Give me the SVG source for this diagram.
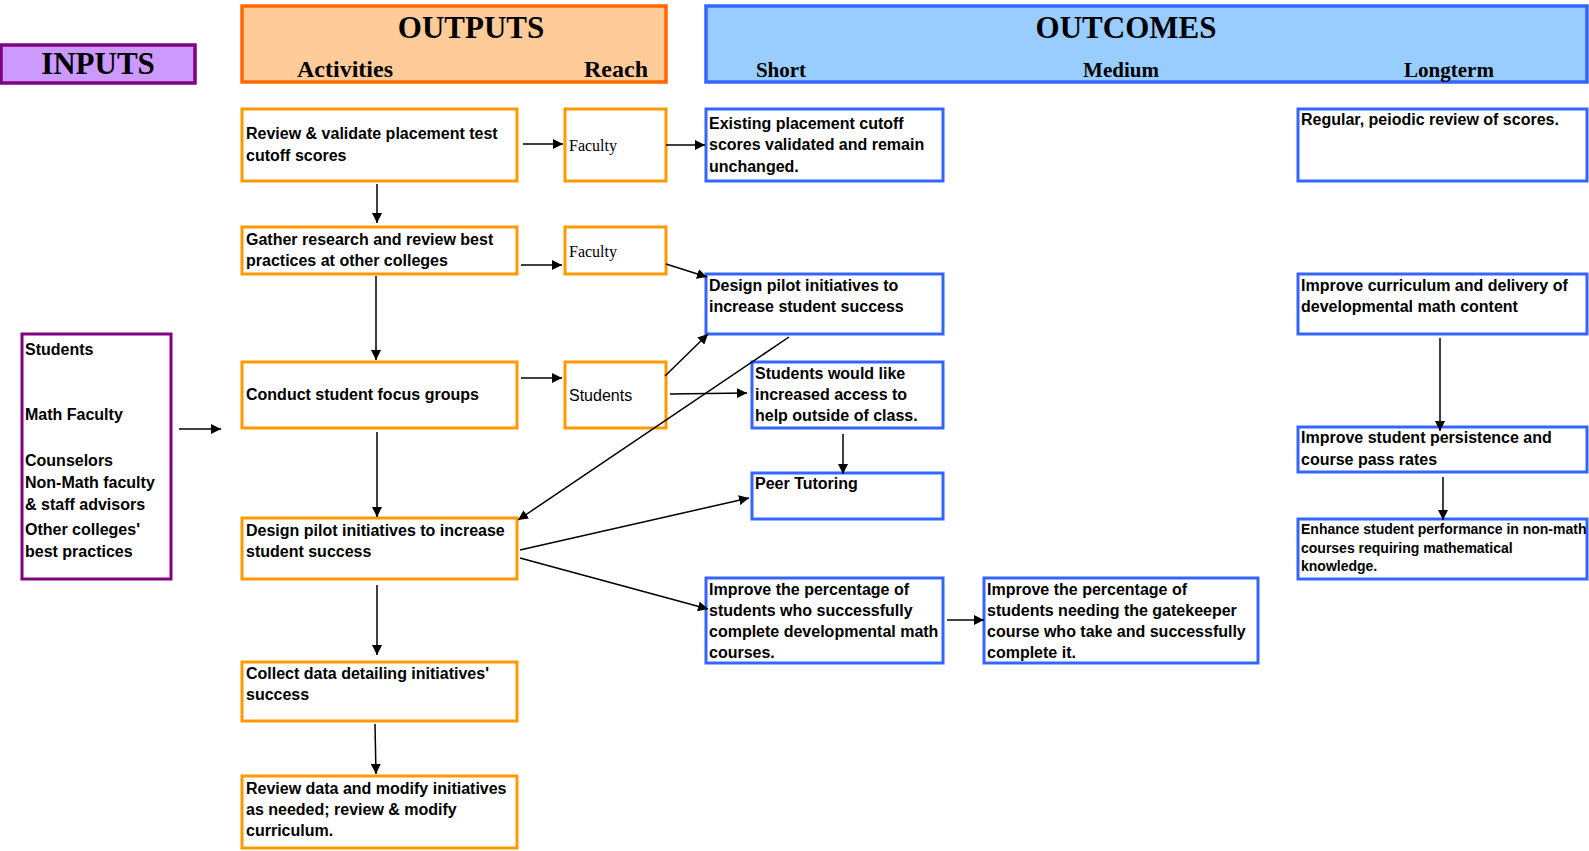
<svg xmlns="http://www.w3.org/2000/svg" width="1589" height="851" viewBox="0 0 1589 851">
<defs>
<marker id="ah" markerUnits="userSpaceOnUse" markerWidth="10" markerHeight="10" refX="10" refY="5" orient="auto">
<path d="M0,0 L10,5 L0,10 z" fill="#000"/>
</marker>
<style>
.box{fill:#fff;stroke-width:3}
.org{stroke:#FF9900}
.blu{stroke:#3366FF}
.pur{stroke:#800080}
.t{font-family:"Liberation Sans",Arial,sans-serif;font-weight:bold;font-size:16px;fill:#000}
.tn{font-family:"Liberation Sans",Arial,sans-serif;font-size:16px;fill:#000}
.ts{font-family:"Liberation Serif","Times New Roman",serif;font-size:16px;fill:#000}
.h1{font-family:"Liberation Serif","Times New Roman",serif;font-weight:bold;font-size:31px;fill:#000;text-anchor:middle}
.h2{font-family:"Liberation Serif","Times New Roman",serif;font-weight:bold;font-size:24px;fill:#000;text-anchor:middle}
.h3{font-family:"Liberation Serif","Times New Roman",serif;font-weight:bold;font-size:21px;fill:#000;text-anchor:middle}
.c line{stroke:#000;stroke-width:1.5;marker-end:url(#ah)}
</style>
</defs>
<rect width="1589" height="851" fill="#fff"/>

<g id="hdr-inputs">
<rect x="1" y="45" width="194" height="38" fill="#CC99FF" stroke="#800080" stroke-width="3.5"/>
<text class="h1" x="98" y="74">INPUTS</text>
</g>
<g id="hdr-outputs">
<rect x="242" y="6" width="424" height="76" fill="#FFCC99" stroke="#FF6600" stroke-width="3.5"/>
<text class="h1" x="471" y="38">OUTPUTS</text>
<text class="h2" x="345" y="77">Activities</text>
<text class="h2" x="616" y="77">Reach</text>
</g>
<g id="hdr-outcomes">
<rect x="706" y="6" width="881" height="76" fill="#99CCFF" stroke="#3366FF" stroke-width="3.5"/>
<text class="h1" x="1126" y="38">OUTCOMES</text>
<text class="h3" x="781" y="77">Short</text>
<text class="h3" x="1121" y="77">Medium</text>
<text class="h3" x="1449" y="77">Longterm</text>
</g>

<g id="inputs">
<rect class="box pur" x="22" y="334" width="149" height="245"/>
<text class="t" x="25" y="355">Students</text>
<text class="t" x="25" y="420">Math Faculty</text>
<text class="t" x="25" y="466">Counselors</text>
<text class="t" x="25" y="488">Non-Math faculty</text>
<text class="t" x="25" y="510">&amp; staff advisors</text>
<text class="t" x="25" y="535">Other colleges'</text>
<text class="t" x="25" y="557">best practices</text>
</g>

<g id="act1">
<rect class="box org" x="242" y="109" width="275" height="72"/>
<text class="t" x="246" y="139">Review &amp; validate placement test</text>
<text class="t" x="246" y="161">cutoff scores</text>
</g>
<g id="act2">
<rect class="box org" x="242" y="227" width="275" height="47"/>
<text class="t" x="246" y="245">Gather research and review best</text>
<text class="t" x="246" y="266">practices at other colleges</text>
</g>
<g id="act3">
<rect class="box org" x="242" y="362" width="275" height="66"/>
<text class="t" x="246" y="400">Conduct student focus groups</text>
</g>
<g id="act4">
<rect class="box org" x="242" y="518" width="275" height="61"/>
<text class="t" x="246" y="536">Design pilot initiatives to increase</text>
<text class="t" x="246" y="557">student success</text>
</g>
<g id="act5">
<rect class="box org" x="242" y="662" width="275" height="59"/>
<text class="t" x="246" y="679">Collect data detailing initiatives'</text>
<text class="t" x="246" y="700">success</text>
</g>
<g id="act6">
<rect class="box org" x="242" y="776" width="275" height="72"/>
<text class="t" x="246" y="794">Review data and modify initiatives</text>
<text class="t" x="246" y="815">as needed; review &amp; modify</text>
<text class="t" x="246" y="836">curriculum.</text>
</g>

<g id="reach1">
<rect class="box org" x="565" y="109" width="101" height="72"/>
<text class="ts" x="569" y="151">Faculty</text>
</g>
<g id="reach2">
<rect class="box org" x="565" y="227" width="101" height="47"/>
<text class="ts" x="569" y="257">Faculty</text>
</g>
<g id="reach3">
<rect class="box org" x="565" y="362" width="101" height="66"/>
<text class="tn" x="569" y="401">Students</text>
</g>

<g id="s1">
<rect class="box blu" x="706" y="109" width="237" height="72"/>
<text class="t" x="709" y="129">Existing placement cutoff</text>
<text class="t" x="709" y="150">scores validated and remain</text>
<text class="t" x="709" y="172">unchanged.</text>
</g>
<g id="s2">
<rect class="box blu" x="706" y="274" width="237" height="60"/>
<text class="t" x="709" y="291">Design pilot initiatives to</text>
<text class="t" x="709" y="312">increase student success</text>
</g>
<g id="s3">
<rect class="box blu" x="752" y="362" width="191" height="66"/>
<text class="t" x="755" y="379">Students would like</text>
<text class="t" x="755" y="400">increased access to</text>
<text class="t" x="755" y="421">help outside of class.</text>
</g>
<g id="s4">
<rect class="box blu" x="752" y="473" width="191" height="46"/>
<text class="t" x="755" y="489">Peer Tutoring</text>
</g>
<g id="s5">
<rect class="box blu" x="706" y="578" width="237" height="85"/>
<text class="t" x="709" y="595">Improve the percentage of</text>
<text class="t" x="709" y="616">students who successfully</text>
<text class="t" x="709" y="637">complete developmental math</text>
<text class="t" x="709" y="658">courses.</text>
</g>
<g id="m1">
<rect class="box blu" x="984" y="578" width="274" height="85"/>
<text class="t" x="987" y="595">Improve the percentage of</text>
<text class="t" x="987" y="616">students needing the gatekeeper</text>
<text class="t" x="987" y="637">course who take and successfully</text>
<text class="t" x="987" y="658">complete it.</text>
</g>
<g id="l1">
<rect class="box blu" x="1298" y="109" width="289" height="72"/>
<text class="t" x="1301" y="125">Regular, peiodic review of scores.</text>
</g>
<g id="l2">
<rect class="box blu" x="1298" y="274" width="289" height="60"/>
<text class="t" x="1301" y="291">Improve curriculum and delivery of</text>
<text class="t" x="1301" y="312">developmental math content</text>
</g>
<g id="l3">
<rect class="box blu" x="1298" y="427" width="289" height="45"/>
<text class="t" x="1301" y="443">Improve student persistence and</text>
<text class="t" x="1301" y="465">course pass rates</text>
</g>
<g id="l4">
<rect class="box blu" x="1298" y="519" width="289" height="60"/>
<text class="t" x="1301" y="534" style="font-size:14px">Enhance student performance in non-math</text>
<text class="t" x="1301" y="553" style="font-size:14px">courses requiring mathematical</text>
<text class="t" x="1301" y="571" style="font-size:14px">knowledge.</text>
</g>

<g id="connectors" class="c">
<line x1="179" y1="429" x2="221" y2="429"/>
<line x1="523" y1="144" x2="563" y2="144"/>
<line x1="666" y1="145" x2="705" y2="145"/>
<line x1="377" y1="184" x2="377" y2="223"/>
<line x1="521" y1="265" x2="562" y2="265"/>
<line x1="666" y1="264" x2="707" y2="277"/>
<line x1="376" y1="276" x2="376" y2="360"/>
<line x1="521" y1="378" x2="562" y2="378"/>
<line x1="665" y1="376" x2="708" y2="334"/>
<line x1="670" y1="394" x2="747" y2="393"/>
<line x1="789" y1="337" x2="518" y2="520"/>
<line x1="377" y1="432" x2="377" y2="517"/>
<line x1="843" y1="434" x2="843" y2="474"/>
<line x1="520" y1="550" x2="749" y2="498"/>
<line x1="520" y1="558" x2="708" y2="609"/>
<line x1="377" y1="585" x2="377" y2="655"/>
<line x1="375" y1="724" x2="376" y2="774"/>
<line x1="947" y1="620" x2="984" y2="620"/>
<line x1="1440" y1="338" x2="1440" y2="431"/>
<line x1="1443" y1="477" x2="1443" y2="520"/>
</g>
</svg>
